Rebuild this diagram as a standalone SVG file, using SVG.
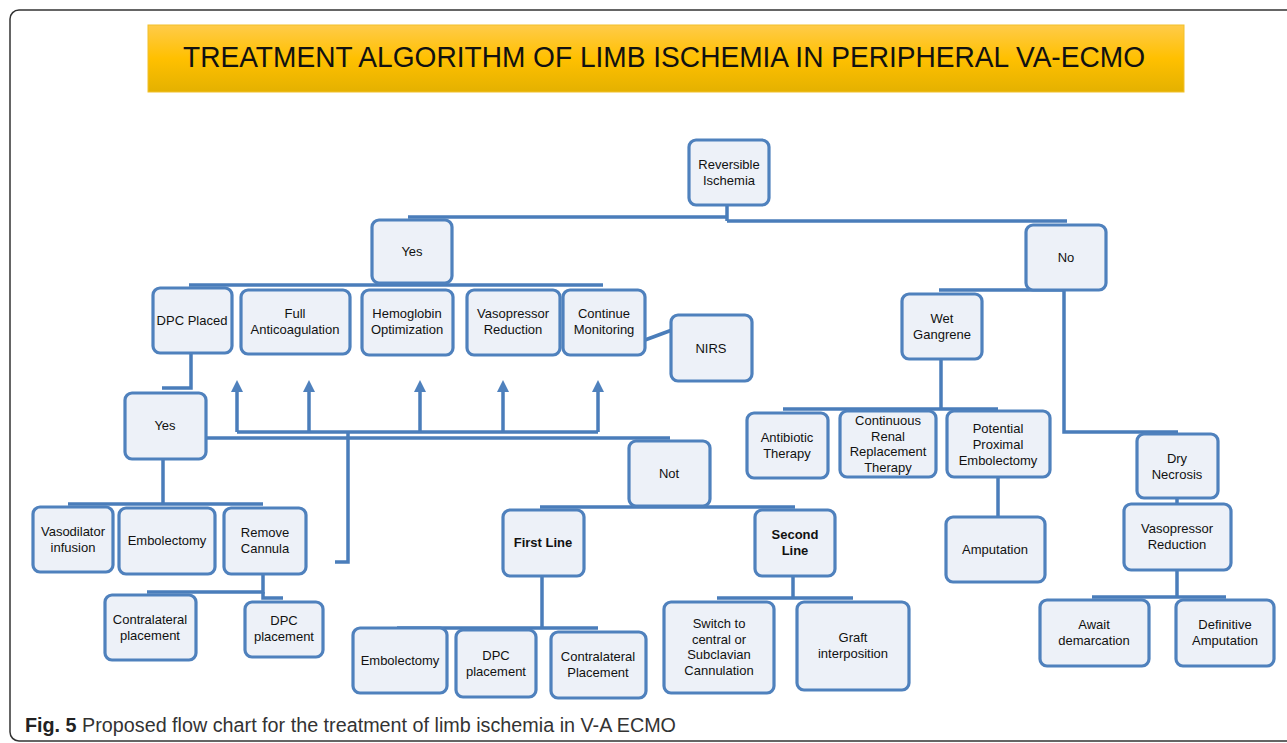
<svg xmlns="http://www.w3.org/2000/svg" width="1287" height="743" viewBox="0 0 1287 743">
<defs>
<linearGradient id="titleGrad" x1="0" y1="0" x2="0" y2="1">
<stop offset="0" stop-color="#FFCB4A"/>
<stop offset="0.5" stop-color="#FFC000"/>
<stop offset="1" stop-color="#E4B100"/>
</linearGradient>
<marker id="arrowUp" markerUnits="userSpaceOnUse" markerWidth="14" markerHeight="14" viewBox="0 0 14 14" refX="0" refY="7" orient="auto">
<path d="M0 1 L12 7 L0 13 Z" fill="#4F81BD"/>
</marker>
</defs>
<style>
.box{fill:#EDF1F8;stroke:#4F81BD;stroke-width:3.2}
.lbl{font-family:"Liberation Sans",Arial,sans-serif;font-size:13px;fill:#111;text-anchor:middle}
.bold{font-weight:bold}
.conn{fill:none;stroke:#4A7DBA;stroke-width:3.5}
</style>
<rect x="10" y="10" width="1300" height="731" rx="9" fill="#FFFFFF" stroke="#333" stroke-width="1.5"/>
<g id="title">
<rect x="148" y="25" width="1036" height="67" fill="url(#titleGrad)" stroke="#F2C02A" stroke-width="1"/>
<text x="664" y="67" font-family="'Liberation Sans',Arial,sans-serif" font-size="29" fill="#111" text-anchor="middle" textLength="962" lengthAdjust="spacingAndGlyphs">TREATMENT ALGORITHM OF LIMB ISCHEMIA IN PERIPHERAL VA-ECMO</text>
</g>
<g id="connectors">
<path class="conn" d="M727 205 V221"/>
<path class="conn" d="M408 217 H727"/>
<path class="conn" d="M727 221 H1067"/>
<path class="conn" d="M189 285 H603"/>
<path class="conn" d="M191 353 V388 H162"/>
<path class="conn" d="M206 438 H670"/>
<path class="conn" d="M237 432 H598"/>
<path class="conn" d="M237 432 V392" marker-end="url(#arrowUp)"/>
<path class="conn" d="M309 432 V392" marker-end="url(#arrowUp)"/>
<path class="conn" d="M420 432 V392" marker-end="url(#arrowUp)"/>
<path class="conn" d="M503 432 V392" marker-end="url(#arrowUp)"/>
<path class="conn" d="M598 432 V392" marker-end="url(#arrowUp)"/>
<path class="conn" d="M348 432 V562 H335"/>
<path class="conn" d="M163 459 V504"/>
<path class="conn" d="M68 504 H263"/>
<path class="conn" d="M263 574 V592 H147"/>
<path class="conn" d="M263 592 V598 H283"/>
<path class="conn" d="M540 507 H795"/>
<path class="conn" d="M542 576 V628"/>
<path class="conn" d="M397 628 H598"/>
<path class="conn" d="M793 576 V598"/>
<path class="conn" d="M717 598 H853"/>
<path class="conn" d="M939 290 H1064"/>
<path class="conn" d="M1064 290 V432 H1178"/>
<path class="conn" d="M941 359 V409"/>
<path class="conn" d="M783 409 H998"/>
<path class="conn" d="M998 477 V517"/>
<path class="conn" d="M1177 498 V504"/>
<path class="conn" d="M1177 570 V597"/>
<path class="conn" d="M1092 597 H1226"/>
<path class="conn" d="M645 340 L672 330"/>
</g>
<g id="reversible-ischemia"><rect class="box" x="689" y="140" width="80" height="65" rx="7"/><text class="lbl" x="729" y="169">Reversible</text><text class="lbl" x="729" y="185">Ischemia</text></g>
<g id="yes-1"><rect class="box" x="372" y="220" width="80" height="63" rx="7"/><text class="lbl" x="412" y="256">Yes</text></g>
<g id="no"><rect class="box" x="1026" y="225" width="80" height="65" rx="7"/><text class="lbl" x="1066" y="262">No</text></g>
<g id="dpc-placed"><rect class="box" x="153" y="288" width="79" height="65" rx="7"/><text class="lbl" x="192" y="325">DPC Placed</text></g>
<g id="full-anticoagulation"><rect class="box" x="241" y="290" width="109" height="64" rx="7"/><text class="lbl" x="295" y="318">Full</text><text class="lbl" x="295" y="334">Anticoagulation</text></g>
<g id="hemoglobin-optimization"><rect class="box" x="362" y="290" width="91" height="65" rx="7"/><text class="lbl" x="407" y="318">Hemoglobin</text><text class="lbl" x="407" y="334">Optimization</text></g>
<g id="vasopressor-reduction-1"><rect class="box" x="467" y="290" width="93" height="65" rx="7"/><text class="lbl" x="513" y="318">Vasopressor</text><text class="lbl" x="513" y="334">Reduction</text></g>
<g id="continue-monitoring"><rect class="box" x="563" y="290" width="82" height="65" rx="7"/><text class="lbl" x="604" y="318">Continue</text><text class="lbl" x="604" y="334">Monitoring</text></g>
<g id="nirs"><rect class="box" x="671" y="315" width="81" height="66" rx="7"/><text class="lbl" x="711" y="353">NIRS</text></g>
<g id="yes-2"><rect class="box" x="125" y="393" width="81" height="66" rx="7"/><text class="lbl" x="165" y="430">Yes</text></g>
<g id="not"><rect class="box" x="629" y="441" width="81" height="65" rx="7"/><text class="lbl" x="669" y="478">Not</text></g>
<g id="vasodilator-infusion"><rect class="box" x="33" y="507" width="80" height="65" rx="7"/><text class="lbl" x="73" y="536">Vasodilator</text><text class="lbl" x="73" y="552">infusion</text></g>
<g id="embolectomy-1"><rect class="box" x="119" y="508" width="96" height="66" rx="7"/><text class="lbl" x="167" y="545">Embolectomy</text></g>
<g id="remove-cannula"><rect class="box" x="224" y="508" width="82" height="66" rx="7"/><text class="lbl" x="265" y="537">Remove</text><text class="lbl" x="265" y="553">Cannula</text></g>
<g id="contralateral-placement-1"><rect class="box" x="105" y="595" width="91" height="65" rx="7"/><text class="lbl" x="150" y="624">Contralateral</text><text class="lbl" x="150" y="640">placement</text></g>
<g id="dpc-placement-1"><rect class="box" x="245" y="602" width="78" height="55" rx="7"/><text class="lbl" x="284" y="625">DPC</text><text class="lbl" x="284" y="641">placement</text></g>
<g id="first-line"><rect class="box" x="503" y="510" width="81" height="66" rx="7"/><text class="lbl bold" x="543" y="547">First Line</text></g>
<g id="second-line"><rect class="box" x="755" y="510" width="80" height="66" rx="7"/><text class="lbl bold" x="795" y="539">Second</text><text class="lbl bold" x="795" y="555">Line</text></g>
<g id="embolectomy-2"><rect class="box" x="353" y="628" width="94" height="65" rx="7"/><text class="lbl" x="400" y="665">Embolectomy</text></g>
<g id="dpc-placement-2"><rect class="box" x="456" y="630" width="80" height="67" rx="7"/><text class="lbl" x="496" y="660">DPC</text><text class="lbl" x="496" y="676">placement</text></g>
<g id="contralateral-placement-2"><rect class="box" x="551" y="632" width="95" height="66" rx="7"/><text class="lbl" x="598" y="661">Contralateral</text><text class="lbl" x="598" y="677">Placement</text></g>
<g id="switch-cannulation"><rect class="box" x="664" y="602" width="110" height="91" rx="7"/><text class="lbl" x="719" y="628">Switch to</text><text class="lbl" x="719" y="644">central or</text><text class="lbl" x="719" y="659">Subclavian</text><text class="lbl" x="719" y="675">Cannulation</text></g>
<g id="graft-interposition"><rect class="box" x="797" y="602" width="112" height="88" rx="7"/><text class="lbl" x="853" y="642">Graft</text><text class="lbl" x="853" y="658">interposition</text></g>
<g id="wet-gangrene"><rect class="box" x="902" y="294" width="80" height="65" rx="7"/><text class="lbl" x="942" y="323">Wet</text><text class="lbl" x="942" y="339">Gangrene</text></g>
<g id="antibiotic-therapy"><rect class="box" x="747" y="413" width="81" height="65" rx="7"/><text class="lbl" x="787" y="442">Antibiotic</text><text class="lbl" x="787" y="458">Therapy</text></g>
<g id="crrt"><rect class="box" x="840" y="411" width="96" height="66" rx="7"/><text class="lbl" x="888" y="425">Continuous</text><text class="lbl" x="888" y="441">Renal</text><text class="lbl" x="888" y="456">Replacement</text><text class="lbl" x="888" y="472">Therapy</text></g>
<g id="potential-proximal-embolectomy"><rect class="box" x="947" y="411" width="103" height="66" rx="7"/><text class="lbl" x="998" y="433">Potential</text><text class="lbl" x="998" y="449">Proximal</text><text class="lbl" x="998" y="465">Embolectomy</text></g>
<g id="amputation"><rect class="box" x="946" y="517" width="99" height="65" rx="7"/><text class="lbl" x="995" y="554">Amputation</text></g>
<g id="dry-necrosis"><rect class="box" x="1137" y="434" width="81" height="64" rx="7"/><text class="lbl" x="1177" y="463">Dry</text><text class="lbl" x="1177" y="479">Necrosis</text></g>
<g id="vasopressor-reduction-2"><rect class="box" x="1124" y="504" width="107" height="66" rx="7"/><text class="lbl" x="1177" y="533">Vasopressor</text><text class="lbl" x="1177" y="549">Reduction</text></g>
<g id="await-demarcation"><rect class="box" x="1040" y="600" width="109" height="66" rx="7"/><text class="lbl" x="1094" y="629">Await</text><text class="lbl" x="1094" y="645">demarcation</text></g>
<g id="definitive-amputation"><rect class="box" x="1176" y="600" width="98" height="66" rx="7"/><text class="lbl" x="1225" y="629">Definitive</text><text class="lbl" x="1225" y="645">Amputation</text></g>
<g id="caption">
<text x="25" y="732" font-family="'Liberation Sans',Arial,sans-serif" font-size="20" fill="#333" textLength="651" lengthAdjust="spacingAndGlyphs"><tspan font-weight="bold" fill="#222">Fig. 5</tspan> Proposed flow chart for the treatment of limb ischemia in V-A ECMO</text>
</g>
</svg>
